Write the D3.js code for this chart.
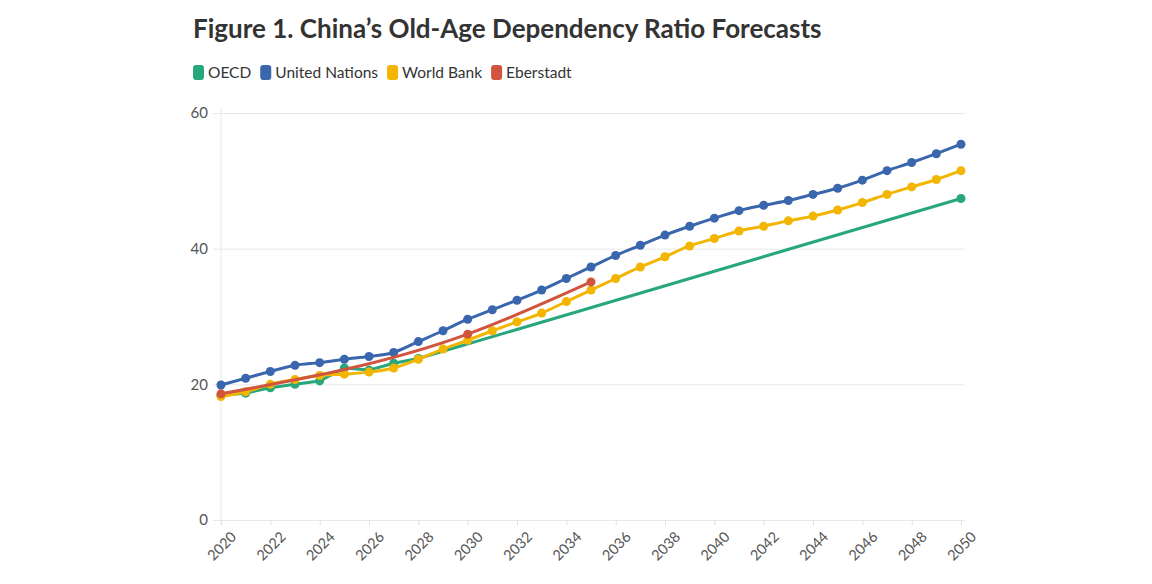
<!DOCTYPE html>
<html><head><meta charset="utf-8">
<script src="https://cdn.jsdelivr.net/npm/d3@7"></script>
<style>
body{margin:0;background:#fff;}
text{font-family:"Source Sans Pro","Lato","Noto Sans",sans-serif;}
</style></head>
<body><svg id="c" width="1152" height="584"></svg>
<script>
const years = d3.range(2020, 2051);
const oecdYears = [2020,2021,2022,2023,2024,2025,2026,2027,2028,2050];
const oecdValues = [18.4,18.7,19.5,20.0,20.5,22.4,22.1,23.1,23.8,47.4];
const unValues = [19.9,20.9,21.9,22.8,23.2,23.7,24.1,24.7,26.3,27.9,29.6,31.0,32.4,33.9,35.6,37.3,39.0,40.5,42.0,43.3,44.5,45.6,46.4,47.1,48.0,48.9,50.1,51.5,52.7,54.0,55.4];
const wbValues = [18.2,18.9,20.0,20.7,21.3,21.5,21.8,22.4,23.7,25.2,26.5,27.9,29.2,30.5,32.2,33.9,35.6,37.3,38.8,40.4,41.5,42.6,43.3,44.1,44.8,45.7,46.8,48.0,49.1,50.2,51.5];
const ebYears = [2020,2030,2035];
const ebValues = [18.6,27.4,35.1];
const yTicks = [0,20,40,60];
const xTicks = d3.range(2020, 2051, 2);
const seriesNames = ["OECD","United Nations","World Bank","Eberstadt"];
const seriesColors = ["#27a77b","#3a66ad","#f2b500","#d1543c"];

const series = [
  {name:seriesNames[0], color:seriesColors[0], curve:d3.curveLinear, pts: oecdYears.map((y,i)=>[y,oecdValues[i]])},
  {name:seriesNames[1], color:seriesColors[1], curve:d3.curveMonotoneX, pts: years.map((y,i)=>[y,unValues[i]])},
  {name:seriesNames[2], color:seriesColors[2], curve:d3.curveMonotoneX, pts: years.map((y,i)=>[y,wbValues[i]])},
  {name:seriesNames[3], color:seriesColors[3], curve:d3.curveMonotoneX, pts: ebYears.map((y,i)=>[y,ebValues[i]])}
];

const svg = d3.select("#c");
const x = d3.scaleLinear().domain([2020,2050]).range([221,961]);
const y = d3.scaleLinear().domain([0,60]).range([520,113]);

svg.append("text").attr("x",193).attr("y",38)
  .attr("font-size",26).attr("font-weight",700).attr("fill","#333")
  .text("Figure 1. China\u2019s Old-Age Dependency Ratio Forecasts");

// legend
const lg = svg.append("g");
let lx = 193;
series.forEach(s=>{
  const g = lg.append("g").attr("transform",`translate(${lx},0)`);
  g.append("rect").attr("x",0).attr("y",65).attr("width",11).attr("height",15).attr("rx",3).attr("fill",s.color);
  const t = g.append("text").attr("x",15).attr("y",78).attr("font-size",15.5).attr("fill","#333").text(s.name);
  lx += 15 + t.node().getComputedTextLength() + 9;
});

// y grid
const ya = svg.append("g").attr("transform","translate(221,0)")
  .call(d3.axisLeft(y).tickValues(yTicks).tickSize(8).tickPadding(5));
ya.select(".domain").remove();
ya.selectAll(".tick line").attr("stroke","#e8e8e8").attr("x2",744).attr("x1",-8);
ya.selectAll(".tick text").attr("font-size",15).attr("fill","#555").attr("font-family",null);

// vertical axis line
svg.append("line").attr("x1",221).attr("x2",221).attr("y1",108).attr("y2",525).attr("stroke","#e8e8e8");

// x axis
const xa = svg.append("g").attr("transform","translate(0,520)")
  .call(d3.axisBottom(x).tickValues(xTicks).tickFormat(d3.format("d")).tickSize(5).tickPadding(3));
xa.select(".domain").remove();
xa.selectAll(".tick line").attr("stroke","#e0e0e0");
xa.selectAll(".tick text").attr("font-size",14.5).attr("fill","#555").attr("font-family",null)
  .attr("text-anchor","end").attr("dy","0.6em")
  .attr("transform","translate(4,6) rotate(-45)");

series.forEach(s=>{
  const line = d3.line().curve(s.curve).x(d=>x(d[0])).y(d=>y(d[1]));
  const g = svg.append("g");
  g.append("path").datum(s.pts).attr("d",line).attr("fill","none")
    .attr("stroke",s.color).attr("stroke-width",3).attr("stroke-linejoin","round");
  g.selectAll("circle").data(s.pts).join("circle")
    .attr("cx",d=>x(d[0])).attr("cy",d=>y(d[1])).attr("r",4.5).attr("fill",s.color);
});
</script></body></html>
